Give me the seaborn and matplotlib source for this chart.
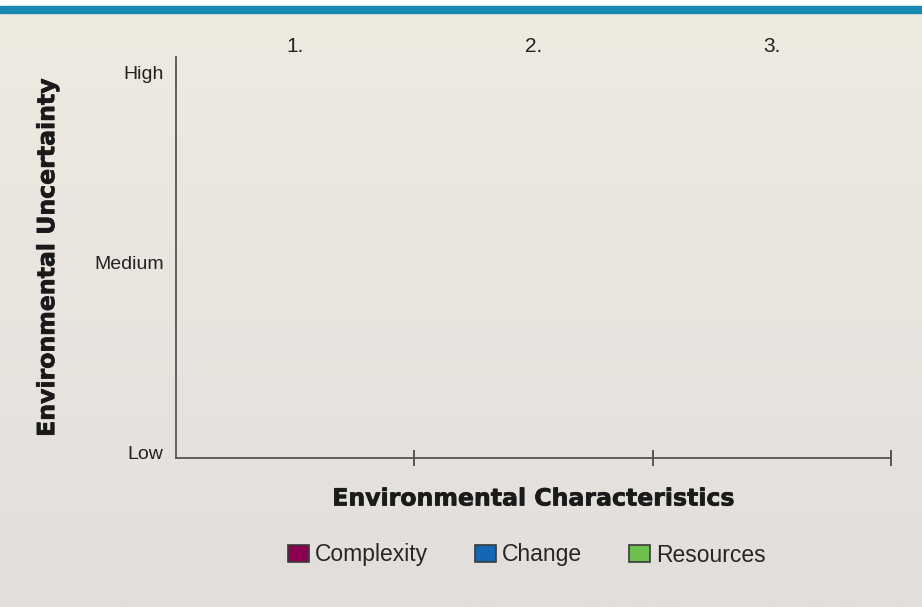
import numpy as np
import pandas as pd
import matplotlib.pyplot as plt
import matplotlib.patheffects as pe
import seaborn as sns
from matplotlib.colors import to_rgb
from matplotlib.patches import Rectangle

# Data: the template has no bars filled in yet (all zero)
categories = ["1.", "2.", "3."]
factors = ["Complexity", "Change", "Resources"]
complexity = [0, 0, 0]
change = [0, 0, 0]
resources = [0, 0, 0]
levels = ["Low", "Medium", "High"]
colors = ["#8C0050", "#1566B4", "#6CC04E"]

sns.set_theme(style="white")
plt.rcParams['font.family'] = ['Liberation Sans', 'DejaVu Sans']

df = pd.DataFrame({
    "Characteristic": categories * 3,
    "Factor": np.repeat(factors, len(categories)),
    "Uncertainty": complexity + change + resources,
})

fig = plt.figure(figsize=(9.22, 6.07), dpi=100)

# background: soft vertical gradient + blue band on top
bg = fig.add_axes([0, 0, 1, 1], zorder=-10)
t = np.linspace(0, 1, 256)[:, None, None]
img = np.array(to_rgb("#EFEBE1")) * (1 - t) + np.array(to_rgb("#E2DEDC")) * t
bg.imshow(img, aspect="auto", extent=[0, 1, 0, 1])
bg.add_patch(Rectangle((0, 1 - 6 / 607), 1, 6 / 607, color="white", transform=bg.transAxes))
bg.add_patch(Rectangle((0, 1 - 13 / 607), 1, 7 / 607, color="#1888B5", transform=bg.transAxes))
bg.set_xlim(0, 1)
bg.set_ylim(0, 1)
bg.axis("off")

ax = fig.add_axes([176 / 922, 1 - 458 / 607, (891 - 176) / 922, (458 - 57) / 607])
ax.patch.set_alpha(0)
sns.barplot(data=df, x="Characteristic", y="Uncertainty", hue="Factor",
            order=categories, hue_order=factors, palette=colors, saturation=1,
            errorbar=None, linewidth=0, ax=ax)

handles, labels = ax.get_legend_handles_labels()
ax.get_legend().remove()
for h in handles:
    h.set_edgecolor("#3a3a3a")
    h.set_linewidth(1.2)

ax.set_xlim(-0.5, 2.5)
ax.set_ylim(-0.03, 2.08)

# category labels on top, boundary ticks on bottom
ax.xaxis.tick_top()
ax.set_xticks(range(len(categories)))
ax.set_xticklabels(categories)
ax.tick_params(axis="x", which="major", length=0, pad=1, labelsize=15, labelcolor="#222")
ax.set_xticks([0.5, 1.5, 2.5], minor=True)
ax.tick_params(axis="x", which="minor", bottom=True, top=False, direction="inout",
               length=11, width=1.1, color="#333")

ax.set_yticks(range(len(levels)))
ax.set_yticklabels(levels)
ax.tick_params(axis="y", length=0, pad=9, labelsize=14, labelcolor="#222")

for s in ["top", "right"]:
    ax.spines[s].set_visible(False)
for s in ["left", "bottom"]:
    ax.spines[s].set_color("#555555")
    ax.spines[s].set_linewidth(1.3)

heavy = [pe.withStroke(linewidth=0.5, foreground="#1a1a1a")]
ax.set_xlabel("Environmental Characteristics", family="DejaVu Sans", fontweight="heavy",
              fontsize=17, color="#1a1a1a", labelpad=15, path_effects=heavy)
ax.xaxis.set_label_position("bottom")
ax.set_ylabel("Environmental Uncertainty", family="DejaVu Sans", fontweight="heavy",
              fontsize=17, color="#1a1a1a", labelpad=25, path_effects=heavy)

fig.legend(handles, labels, loc="center", bbox_to_anchor=(527 / 922, 1 - 555 / 607),
           ncol=3, frameon=False, fontsize=16.5, handlelength=0.92, handleheight=0.75,
           handletextpad=0.26, columnspacing=2.05)

plt.savefig("out.png", dpi=100)
